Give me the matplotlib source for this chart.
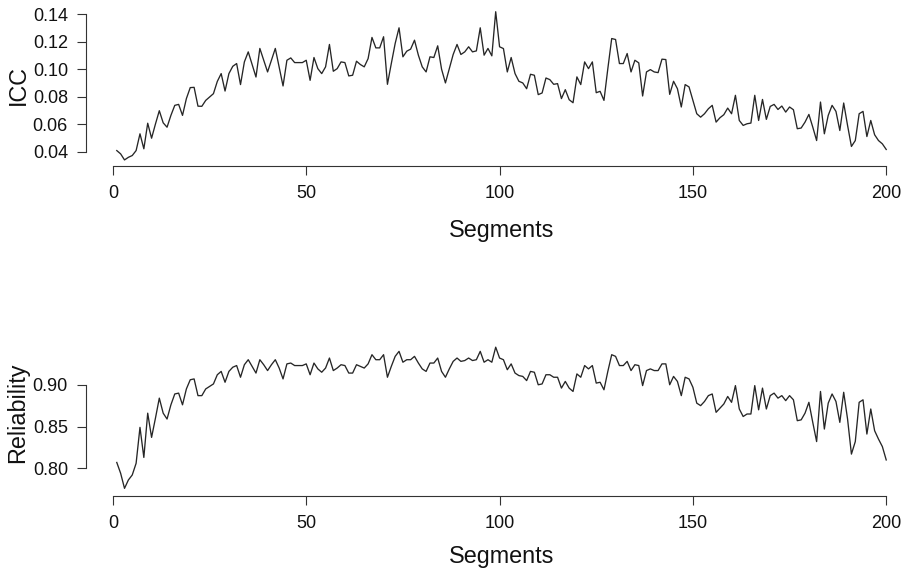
import numpy as np
import matplotlib
matplotlib.use("Agg")
import matplotlib.pyplot as plt

plt.rcParams['font.family'] = ['Liberation Sans', 'DejaVu Sans']

# segment numbers 1..200
segments = list(range(1, 201))

icc = [
    0.0407, 0.0383, 0.0339, 0.0358, 0.0371, 0.0407, 0.0529, 0.0420, 0.0606, 0.0497,
    0.0600, 0.0697, 0.0609, 0.0577, 0.0663, 0.0736, 0.0743, 0.0663, 0.0785, 0.0865,
    0.0867, 0.0730, 0.0729, 0.0772, 0.0796, 0.0821, 0.0910, 0.0967, 0.0840, 0.0967,
    0.1020, 0.1040, 0.0887, 0.1052, 0.1125, 0.1033, 0.0942, 0.1150, 0.1064, 0.0979,
    0.1064, 0.1150, 0.1015, 0.0877, 0.1064, 0.1081, 0.1047, 0.1047, 0.1047, 0.1064,
    0.0918, 0.1084, 0.1003, 0.0967, 0.1016, 0.1179, 0.0984, 0.1003, 0.1052, 0.1047,
    0.0950, 0.0955, 0.1057, 0.1033, 0.1016, 0.1076, 0.1230, 0.1154, 0.1154, 0.1235,
    0.0889, 0.1040, 0.1186, 0.1300, 0.1089, 0.1130, 0.1145, 0.1210, 0.1101, 0.1016,
    0.0979, 0.1089, 0.1084, 0.1169, 0.0999, 0.0899, 0.1003, 0.1106, 0.1179, 0.1106,
    0.1125, 0.1162, 0.1125, 0.1132, 0.1300, 0.1101, 0.1150, 0.1096, 0.1417, 0.1162,
    0.1149, 0.0979, 0.1084, 0.0967, 0.0911, 0.0899, 0.0857, 0.0962, 0.0955, 0.0814,
    0.0826, 0.0935, 0.0923, 0.0889, 0.0894, 0.0785, 0.0850, 0.0777, 0.0755, 0.0943,
    0.0887, 0.1052, 0.1003, 0.1052, 0.0828, 0.0838, 0.0772, 0.1003, 0.1222, 0.1215,
    0.1040, 0.1040, 0.1113, 0.0979, 0.1064, 0.1045, 0.0804, 0.0979, 0.0996, 0.0979,
    0.0974, 0.1072, 0.1069, 0.0816, 0.0911, 0.0857, 0.0724, 0.0887, 0.0870, 0.0772,
    0.0675, 0.0650, 0.0675, 0.0711, 0.0736, 0.0614, 0.0646, 0.0668, 0.0716, 0.0675,
    0.0809, 0.0626, 0.0590, 0.0602, 0.0607, 0.0809, 0.0626, 0.0779, 0.0634, 0.0728,
    0.0743, 0.0706, 0.0731, 0.0687, 0.0724, 0.0704, 0.0566, 0.0571, 0.0614, 0.0670,
    0.0578, 0.0480, 0.0760, 0.0529, 0.0663, 0.0736, 0.0692, 0.0553, 0.0753, 0.0590,
    0.0437, 0.0480, 0.0675, 0.0692, 0.0509, 0.0626, 0.0522, 0.0480, 0.0456, 0.0415,
]

reliability = [
    0.807, 0.794, 0.776, 0.786, 0.792, 0.806, 0.849, 0.813, 0.866, 0.837,
    0.860, 0.884, 0.866, 0.859, 0.876, 0.889, 0.890, 0.876, 0.895, 0.906,
    0.907, 0.887, 0.887, 0.895, 0.898, 0.901, 0.912, 0.916, 0.903, 0.916,
    0.921, 0.923, 0.909, 0.924, 0.930, 0.922, 0.914, 0.930, 0.924, 0.917,
    0.924, 0.930, 0.920, 0.907, 0.925, 0.926, 0.923, 0.923, 0.923, 0.925,
    0.912, 0.926, 0.919, 0.915, 0.920, 0.932, 0.917, 0.920, 0.924, 0.923,
    0.914, 0.914, 0.924, 0.922, 0.920, 0.925, 0.936, 0.930, 0.930, 0.936,
    0.909, 0.922, 0.934, 0.940, 0.927, 0.930, 0.930, 0.934, 0.926, 0.919,
    0.916, 0.926, 0.926, 0.932, 0.916, 0.909, 0.919, 0.928, 0.932, 0.928,
    0.929, 0.932, 0.929, 0.930, 0.940, 0.927, 0.930, 0.927, 0.945, 0.932,
    0.930, 0.918, 0.925, 0.914, 0.911, 0.910, 0.905, 0.916, 0.915, 0.900,
    0.901, 0.912, 0.912, 0.909, 0.909, 0.896, 0.904, 0.896, 0.892, 0.913,
    0.909, 0.923, 0.919, 0.923, 0.902, 0.903, 0.894, 0.916, 0.936, 0.934,
    0.923, 0.923, 0.928, 0.917, 0.924, 0.923, 0.899, 0.917, 0.919, 0.917,
    0.917, 0.925, 0.925, 0.900, 0.910, 0.904, 0.887, 0.909, 0.907, 0.897,
    0.878, 0.875, 0.880, 0.887, 0.889, 0.867, 0.872, 0.877, 0.886, 0.879,
    0.899, 0.871, 0.862, 0.865, 0.865, 0.899, 0.870, 0.896, 0.871, 0.887,
    0.890, 0.884, 0.887, 0.881, 0.887, 0.882, 0.857, 0.858, 0.866, 0.879,
    0.855, 0.832, 0.892, 0.847, 0.878, 0.889, 0.880, 0.855, 0.891, 0.859,
    0.817, 0.832, 0.879, 0.882, 0.841, 0.871, 0.845, 0.835, 0.826, 0.810,
]

x_ticks = [0, 50, 100, 150, 200]
icc_ticks = [0.04, 0.06, 0.08, 0.10, 0.12, 0.14]
rel_ticks = [0.80, 0.85, 0.90]

W, H = 904, 574
fig = plt.figure(figsize=(W / 100, H / 100), dpi=100)


def px_axes(left, top, right, bottom):
    return fig.add_axes([left / W, 1 - bottom / H, (right - left) / W, (bottom - top) / H])


def r_style(ax, xt, yt, fmt):
    for s in ('top', 'right'):
        ax.spines[s].set_visible(False)
    ax.spines['bottom'].set_bounds(xt[0], xt[-1])
    ax.spines['left'].set_bounds(yt[0], yt[-1])
    for s in ('bottom', 'left'):
        ax.spines[s].set_linewidth(0.8)
        ax.spines[s].set_color('#333333')
    ax.set_xticks(xt)
    ax.set_yticks(yt)
    ax.set_yticklabels([fmt % v for v in yt])
    ax.tick_params(axis='both', direction='out', length=6.5, width=0.8,
                   color='#333333', labelsize=13, labelcolor='#111111')
    ax.tick_params(axis='x', pad=7.5)
    ax.tick_params(axis='y', pad=6.5)
    ax.patch.set_alpha(0)


ax1 = px_axes(86, 5.4, 917, 165.7)
ax1.plot(segments, icc, color='#262626', lw=0.95)
ax1.set_xlim(-6.96, 207.96)
ax1.set_ylim(0.0297, 0.1463)
r_style(ax1, x_ticks, icc_ticks, '%.2f')

ax2 = px_axes(86, 343, 917, 495.7)
ax2.plot(segments, reliability, color='#262626', lw=0.95)
ax2.set_xlim(-6.96, 207.96)
ax2.set_ylim(0.7672, 0.9500)
r_style(ax2, x_ticks, rel_ticks, '%.2f')

fig.text(501.5 / W, 1 - 231 / H, 'Segments', ha='center', va='center', fontsize=16.8, color='#111111')
fig.text(501.5 / W, 1 - 557 / H, 'Segments', ha='center', va='center', fontsize=16.8, color='#111111')
fig.text(18 / W, 1 - 85 / H, 'ICC', ha='center', va='center', rotation=90, fontsize=16.8, color='#111111')
fig.text(18 / W, 1 - 413 / H, 'Reliability', ha='center', va='center', rotation=90, fontsize=16.8, color='#111111')

fig.savefig('out.png', dpi=100)
